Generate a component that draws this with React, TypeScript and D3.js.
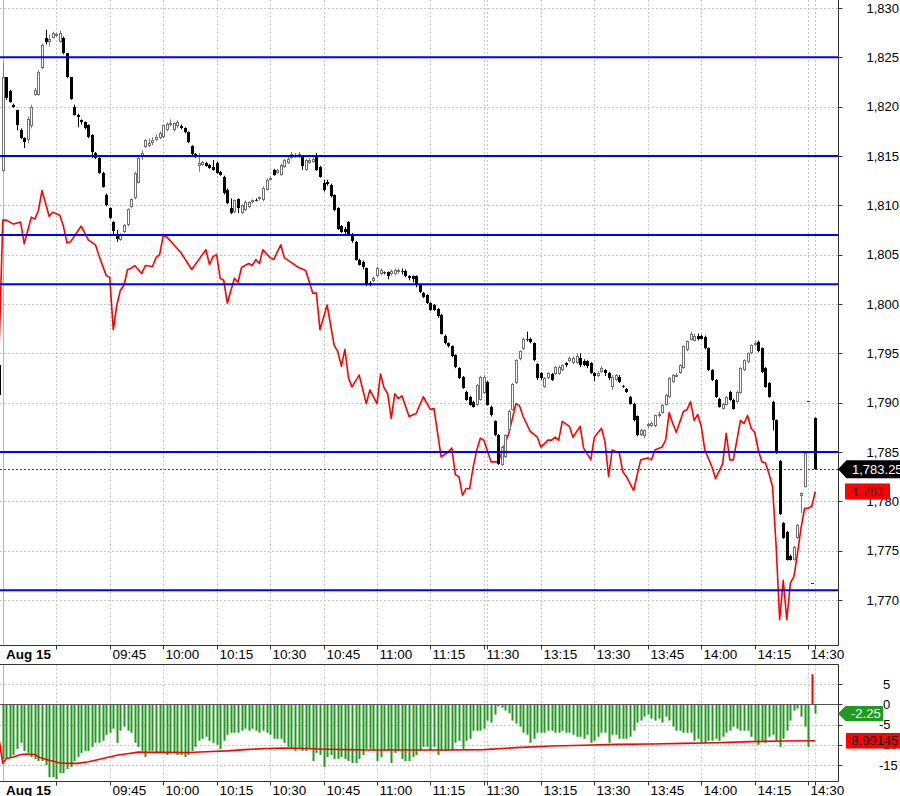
import React, { useEffect } from 'react';
import * as d3 from 'd3';

// ---------- DATA ----------
// Bar index -1 is the last bar of the previous session; index 0 is 09:15 (1-minute bars).
const FIRST_BAR = -1;

const opens = [1793.8,
  1813.5,1823.0,1821.6,1820.2,1819.7,1817.6,1816.8,1816.6,1818.0,1821.2,
  1821.2,1823.9,1827.0,1826.6,1827.0,1827.2,1826.6,1827.0,1825.4,1823.0,
  1820.0,1819.2,1818.6,1818.4,1818.1,1817.1,1815.3,1814.8,1813.3,1811.0,
  1809.7,1808.3,1806.9,1806.5,1807.3,1808.0,1809.8,1810.7,1812.3,1814.9,
  1815.9,1816.0,1816.3,1816.6,1816.8,1816.9,1817.6,1818.1,1817.6,1818.0,
  1818.0,1817.8,1817.4,1816.0,1815.2,1814.0,1814.1,1814.3,1814.1,1813.9,
  1814.3,1813.4,1812.9,1811.6,1809.7,1809.3,1810.6,1809.2,1809.5,1809.8,
  1810.4,1810.5,1810.6,1810.5,1811.6,1812.7,1813.6,1813.3,1813.1,1813.9,
  1814.3,1814.8,1814.9,1815.1,1815.0,1813.6,1814.3,1814.4,1815.1,1813.9,
  1812.3,1812.4,1812.1,1811.0,1809.7,1807.9,1807.6,1808.3,1807.1,1806.3,
  1804.5,1804.3,1803.6,1802.1,1802.3,1802.8,1803.0,1803.2,1803.2,1803.0,
  1803.0,1803.2,1803.3,1803.3,1802.8,1802.8,1802.8,1801.9,1801.1,1800.9,
  1800.1,1799.9,1799.5,1798.9,1796.8,1796.0,1795.7,1794.8,1793.5,1792.6,
  1791.1,1790.6,1790.1,1789.8,1790.3,1791.0,1792.1,1789.6,1788.1,1786.7,
  1783.7,1784.5,1787.2,1789.3,1792.0,1794.4,1795.4,1796.5,1796.5,1796.0,
  1793.9,1793.0,1791.6,1792.5,1792.9,1792.9,1792.9,1793.3,1794.0,1794.2,
  1794.0,1794.0,1794.5,1794.2,1794.2,1794.0,1793.0,1792.7,1793.1,1793.3,
  1793.0,1791.6,1792.3,1792.6,1791.7,1791.4,1790.6,1789.9,1788.6,1786.7,
  1786.6,1787.6,1787.6,1787.6,1788.7,1789.0,1789.8,1790.6,1792.1,1792.7,
  1793.0,1793.5,1795.3,1796.4,1796.3,1796.8,1796.8,1796.7,1795.5,1793.3,
  1792.3,1790.4,1789.4,1789.8,1791.1,1790.3,1790.1,1791.0,1793.3,1794.1,
  1795.0,1795.8,1796.1,1795.5,1793.5,1792.0,1790.1,1788.2,1784.1,1777.8,
  1776.9,1774.5,1774.1,1776.3,1780.5,1781.5,1790.2,1771.7,1788.4];

const highs = [1794.0,
  1824.4,1823.0,1821.7,1820.3,1819.7,1817.8,1816.9,1819.0,1820.2,1821.9,
  1823.7,1826.4,1827.8,1827.3,1827.6,1827.5,1827.7,1827.1,1825.4,1823.0,
  1820.2,1819.3,1818.7,1818.5,1818.2,1817.2,1815.4,1814.9,1813.4,1811.2,
  1809.8,1808.4,1807.5,1807.2,1808.1,1809.7,1810.7,1813.4,1814.9,1815.6,
  1816.7,1816.8,1816.9,1817.2,1817.5,1818.2,1818.4,1818.7,1818.4,1818.6,
  1818.2,1817.9,1817.5,1816.1,1815.3,1815.3,1814.5,1814.4,1814.2,1814.6,
  1814.4,1813.5,1813.0,1811.7,1810.7,1810.6,1810.7,1810.1,1810.5,1810.4,
  1810.6,1810.7,1810.9,1811.9,1812.7,1813.0,1813.7,1813.7,1814.2,1814.7,
  1814.9,1815.4,1815.3,1815.4,1815.1,1814.7,1814.8,1815.0,1815.3,1814.0,
  1812.6,1812.6,1812.2,1811.1,1809.8,1808.0,1807.8,1808.4,1807.2,1806.4,
  1804.6,1804.4,1803.7,1802.3,1802.8,1803.8,1803.6,1803.3,1803.3,1803.5,
  1803.6,1803.6,1803.6,1803.5,1802.9,1802.9,1802.9,1802.0,1801.2,1801.0,
  1800.2,1800.0,1799.6,1799.0,1796.9,1796.1,1795.8,1794.9,1793.6,1792.7,
  1791.2,1790.7,1790.2,1791.9,1792.7,1792.8,1792.2,1789.7,1788.2,1786.8,
  1785.6,1786.8,1789.3,1792.0,1794.4,1795.3,1796.6,1797.2,1796.6,1796.1,
  1794.0,1793.1,1792.6,1793.1,1793.0,1793.7,1793.8,1793.9,1794.1,1794.7,
  1794.7,1795.0,1795.0,1794.4,1794.3,1794.1,1793.1,1793.2,1793.7,1793.4,
  1793.1,1792.8,1792.9,1792.8,1791.8,1791.5,1790.7,1790.0,1788.7,1787.4,
  1787.3,1788.0,1788.1,1788.8,1789.1,1789.9,1790.9,1792.6,1792.9,1793.0,
  1793.9,1795.8,1796.3,1797.2,1797.0,1797.0,1796.9,1796.8,1795.6,1793.4,
  1792.4,1790.5,1790.0,1790.7,1791.2,1790.4,1791.2,1793.6,1794.4,1795.1,
  1795.9,1796.3,1796.3,1795.6,1793.6,1792.1,1790.2,1788.3,1784.2,1777.9,
  1777.0,1774.6,1775.5,1777.7,1780.9,1785.0,1790.2,1771.7,1788.5];

const lows = [1790.5,
  1813.4,1820.7,1820.4,1819.9,1817.6,1816.7,1815.8,1816.3,1817.8,1821.1,
  1821.1,1823.8,1826.3,1826.1,1826.9,1827.1,1826.5,1825.3,1822.9,1820.7,
  1819.1,1817.9,1818.2,1817.7,1816.8,1814.8,1814.7,1813.2,1811.8,1809.9,
  1808.6,1807.1,1806.3,1806.4,1807.2,1807.9,1809.7,1810.6,1812.2,1814.6,
  1815.8,1815.9,1816.1,1816.5,1816.7,1816.8,1817.5,1818.0,1817.5,1817.8,
  1817.7,1817.3,1816.3,1815.1,1814.8,1813.4,1814.0,1813.9,1813.7,1813.5,
  1813.2,1813.0,1811.1,1810.1,1809.1,1809.2,1809.2,1809.1,1809.4,1809.7,
  1810.2,1810.4,1810.5,1810.4,1811.5,1812.6,1813.0,1813.2,1813.0,1813.8,
  1814.2,1814.7,1814.8,1814.8,1813.6,1813.5,1814.2,1814.3,1813.5,1812.8,
  1811.4,1812.0,1810.8,1809.4,1807.5,1807.2,1807.1,1806.9,1806.2,1804.4,
  1803.9,1803.5,1801.8,1801.8,1802.2,1802.7,1802.9,1803.0,1802.5,1802.9,
  1802.9,1803.1,1803.0,1802.7,1802.4,1802.2,1801.7,1801.1,1800.6,1800.0,
  1799.3,1799.3,1798.6,1796.9,1795.9,1795.6,1794.6,1793.5,1792.4,1791.4,
  1790.2,1789.7,1789.5,1789.7,1790.2,1790.9,1789.7,1788.6,1786.6,1783.7,
  1783.6,1784.4,1787.1,1789.2,1791.9,1794.3,1795.3,1796.2,1796.0,1794.2,
  1792.3,1792.3,1791.5,1792.4,1792.2,1792.8,1792.8,1793.2,1793.6,1794.1,
  1793.9,1793.9,1793.6,1793.7,1793.5,1792.9,1792.2,1792.6,1793.0,1792.7,
  1792.3,1791.3,1792.2,1792.0,1791.5,1791.0,1789.8,1788.1,1786.6,1786.6,
  1786.4,1787.4,1787.5,1787.5,1788.5,1788.9,1789.7,1790.5,1792.0,1792.6,
  1792.9,1793.4,1795.2,1796.3,1796.2,1796.3,1796.4,1795.4,1793.2,1792.2,
  1790.5,1789.5,1789.3,1789.7,1790.2,1789.3,1790.0,1790.9,1793.2,1794.0,
  1794.9,1795.7,1795.1,1793.0,1791.5,1790.5,1787.2,1784.8,1778.6,1776.2,
  1774.0,1774.0,1774.0,1776.2,1778.8,1781.4,1790.2,1771.7,1783.2];

const closes = [1790.8,
  1823.0,1820.9,1820.5,1820.0,1818.1,1816.8,1816.4,1818.8,1820.0,1821.7,
  1823.5,1826.3,1826.6,1826.9,1827.5,1827.4,1827.5,1825.4,1823.0,1820.8,
  1819.2,1819.0,1818.4,1817.8,1816.9,1815.4,1814.8,1813.3,1811.9,1810.0,
  1808.7,1807.4,1806.6,1807.0,1808.0,1809.6,1810.6,1813.3,1814.8,1815.3,
  1816.6,1816.3,1816.6,1816.9,1817.3,1818.1,1818.2,1818.3,1818.3,1818.4,
  1817.8,1817.4,1816.4,1815.2,1814.9,1814.3,1814.4,1814.0,1813.8,1813.6,
  1813.3,1813.1,1811.2,1810.2,1809.2,1810.5,1809.7,1810.0,1810.3,1810.3,
  1810.5,1810.5,1810.8,1811.8,1812.6,1812.8,1813.1,1813.6,1814.1,1814.6,
  1814.7,1815.2,1815.1,1815.2,1814.0,1814.6,1814.6,1814.7,1813.6,1812.9,
  1811.6,1812.2,1810.9,1809.5,1807.6,1807.3,1807.3,1807.0,1806.4,1804.5,
  1804.0,1803.8,1801.9,1801.9,1802.6,1803.6,1803.4,1803.1,1802.8,1803.3,
  1803.4,1803.4,1803.3,1802.8,1802.6,1802.5,1801.9,1801.2,1800.7,1800.1,
  1799.4,1799.4,1798.8,1797.0,1796.0,1795.7,1794.7,1793.6,1792.5,1791.5,
  1790.3,1789.8,1789.6,1791.8,1792.6,1792.6,1789.8,1788.7,1786.7,1783.8,
  1785.5,1786.7,1789.2,1791.9,1794.3,1795.2,1796.5,1796.4,1796.1,1794.3,
  1792.5,1792.5,1792.5,1793.0,1792.3,1793.6,1793.6,1793.8,1793.8,1794.5,
  1794.5,1794.7,1793.8,1793.8,1793.7,1793.0,1792.7,1793.0,1793.5,1793.0,
  1792.5,1792.6,1792.8,1792.1,1791.6,1791.1,1789.9,1788.2,1786.7,1787.2,
  1787.2,1787.8,1787.9,1788.7,1788.9,1789.8,1790.8,1792.5,1792.8,1792.8,
  1793.8,1795.7,1796.2,1797.0,1796.8,1796.5,1796.5,1795.5,1793.3,1792.3,
  1790.6,1789.6,1789.9,1790.6,1790.3,1789.4,1791.1,1793.5,1794.3,1795.0,
  1795.8,1796.0,1795.2,1793.1,1791.6,1790.6,1788.2,1784.9,1778.7,1776.3,
  1774.1,1774.1,1775.4,1777.6,1780.8,1784.9,1790.2,1771.7,1783.25];

// Red overlay line in the price panel: [bar index, price]
const overlay: [number, number][] = [
  [-1,1796.0],[0,1808.5],[1,1808.5],[3,1808.1],[4,1808.2],[5,1808.3],[6,1806.1],[8,1808.8],[9,1808.6],[10,1809.5],
  [11,1811.5],[13,1808.9],[14,1809.3],[16,1809.0],[17,1807.9],[18,1806.2],[19,1806.3],[22,1807.9],[24,1806.5],[26,1806.0],
  [27,1804.9],[29,1802.9],[30,1802.7],[31,1797.4],[32,1799.9],[33,1801.4],[34,1801.9],[35,1803.5],[36,1803.6],[37,1803.9],
  [39,1803.1],[40,1803.9],[42,1803.8],[43,1804.7],[44,1805.0],[45,1806.9],[46,1806.8],[48,1806.0],[50,1805.2],[53,1803.5],
  [55,1804.5],[57,1805.5],[58,1804.0],[59,1804.8],[60,1805.0],[61,1802.6],[62,1802.4],[63,1800.1],[65,1802.6],[66,1802.2],
  [67,1803.7],[69,1804.1],[70,1803.9],[71,1804.5],[72,1804.1],[73,1805.5],[75,1804.7],[76,1804.5],[78,1806.0],[79,1804.7],
  [81,1804.2],[83,1803.7],[85,1803.4],[87,1801.1],[88,1801.1],[89,1797.4],[91,1799.9],[93,1795.8],[94,1795.2],[95,1793.7],
  [96,1795.4],[97,1792.5],[98,1791.6],[100,1792.8],[102,1789.9],[103,1791.3],[105,1789.9],[106,1792.9],[107,1791.5],[108,1790.9],
  [109,1788.4],[110,1790.9],[111,1790.4],[112,1790.7],[114,1788.6],[116,1788.9],[118,1790.6],[120,1789.3],[121,1789.4],[123,1784.5],
  [125,1785.0],[126,1785.4],[127,1782.7],[128,1782.5],[129,1780.6],[130,1781.3],[131,1781.3],[132,1783.5],[133,1785.2],[134,1786.4],
  [135,1786.2],[137,1784.0],[139,1784.0],[140,1784.9],[141,1785.9],[142,1786.9],[144,1789.9],[145,1789.7],[146,1788.6],[148,1787.1],
  [150,1786.5],[151,1785.5],[153,1786.2],[154,1786.2],[155,1786.5],[156,1786.2],[157,1788.1],[159,1787.6],[160,1786.5],[162,1787.6],
  [163,1785.4],[165,1784.2],[166,1786.5],[168,1787.4],[169,1786.0],[170,1782.5],[171,1785.2],[173,1784.9],[174,1783.0],[175,1782.5],
  [177,1781.1],[179,1784.2],[181,1784.4],[182,1784.2],[183,1785.2],[185,1785.5],[186,1786.2],[187,1789.0],[188,1787.9],[189,1787.0],
  [191,1789.1],[192,1789.3],[193,1790.1],[194,1788.2],[195,1788.8],[196,1787.6],[197,1785.2],[199,1783.5],[200,1782.3],[202,1783.8],
  [203,1786.9],[204,1784.2],[205,1784.2],[207,1788.2],[208,1787.9],[209,1788.7],[210,1787.4],[211,1787.0],[212,1785.2],[213,1784.0],
  [214,1783.9],[215,1782.8],[216,1781.5],[217,1775.5],[218,1768.0],[219,1772.0],[220,1768.0],[221,1771.7],[222,1772.4],[223,1774.7],
  [224,1777.3],[225,1779.3],[226,1779.3],[227,1779.5],[228,1781.0]];

// Oscillator histogram, bar index 0..228
const oscBars = [
  -13.5,-13.5,-13,-12.5,-11,-9.5,-11.5,-12,-13,-13.5,
  -14,-14,-15,-18,-18,-18.5,-17,-17,-16,-15.5,
  -14,-13,-12,-11.5,-11.5,-10.5,-9.5,-9.5,-9,-7.5,
  -7,-6,-9.5,-6.5,-5.5,-6.5,-7,-9.5,-10.5,-11.5,
  -13,-11.5,-11.5,-12,-12,-12,-12.5,-12,-12,-12.5,
  -12.5,-13,-12.5,-11.5,-10.5,-9,-8.5,-8,-9,-9.5,
  -10,-11,-9,-7.5,-7,-7,-7,-6.5,-6,-6.5,
  -6,-6.5,-7,-6.5,-7,-7.5,-8.5,-8.5,-8.5,-9.5,
  -10.5,-11,-11.5,-11,-11.5,-11.5,-11,-14,-12,-12.5,
  -15.5,-13,-12.5,-13.5,-13.5,-13,-13.5,-14,-14.5,-14.5,
  -13.5,-12.5,-11,-11,-11.5,-14,-13,-11.5,-11.5,-14.5,
  -12,-11.5,-13.5,-14,-14,-13,-12.5,-11.5,-10.5,-10.5,
  -11.5,-10.5,-12.5,-11.5,-11.5,-11.5,-11.5,-9.5,-9,-11,
  -9,-8.5,-6.5,-6.5,-6.5,-6,-4,-4.5,-2.5,-0.5,
  -0.8,-1.5,-2.2,-4,-4.7,-5.5,-7,-7.5,-9.5,-8.5,
  -7,-7,-7,-6.5,-6.5,-7,-7,-6.5,-7,-7,
  -7.5,-8,-8,-8.5,-7.5,-9.5,-9,-8,-7,-7,
  -9.5,-7.5,-7.5,-8.5,-8.5,-8.5,-8,-6.5,-4.5,-4,
  -3,-2.5,-3.5,-4,-3.5,-4.5,-3,-4,-5.5,-6.5,
  -6.5,-7,-7,-7,-9,-8.5,-9.5,-9.5,-9,-9,
  -8.5,-9,-8,-7,-6.5,-5.5,-6,-6.5,-6.5,-6.5,
  -8,-9,-10,-9,-9.5,-8,-7.5,-9,-10.5,-8.5,
  -6.5,-4,-1.5,-1,-3,-5.5,-10.5,7.5,-2.25];

// Oscillator signal line: [bar index, value]
const oscSignal: [number, number][] = [
  [-1,-8.85],[0,-14.6],[1,-13.4],[3,-13.0],[5,-12.4],[7,-12.3],[9,-12.4],[10,-13.0],[12,-13.6],[14,-14.0],
  [16,-14.5],[18,-14.6],[21,-14.6],[24,-14.2],[26,-13.8],[29,-13.2],[32,-12.6],[35,-12.2],[38,-11.8],[52,-11.9],
  [57,-11.7],[63,-11.5],[68,-11.2],[74,-10.9],[79,-10.8],[85,-10.9],[91,-11.1],[97,-11.2],[102,-11.3],[125,-11.3],
  [135,-11.2],[144,-10.7],[154,-10.3],[163,-10.1],[172,-9.9],[182,-9.8],[191,-9.65],[200,-9.5],[210,-9.2],[219,-9.05],
  [228,-8.99145]];

const priceTicks = [1770, 1775, 1780, 1785, 1790, 1795, 1800, 1805, 1810, 1815, 1820, 1825, 1830];
const oscTicks = [5, 0, -5, -10, -15];
const levels = [1825, 1815, 1807, 1802, 1785, 1771];
const timeTickIdx = [15, 30, 45, 60, 75, 90, 105, 120, 135, 136, 151, 166, 181, 196, 211, 226, 228];
const timeLabelIdx = [30, 45, 60, 75, 90, 105, 120, 135, 151, 166, 181, 196, 211, 226];
const timeLabels = ['09:45', '10:00', '10:15', '10:30', '10:45', '11:00', '11:15', '11:30', '13:15', '13:30', '13:45', '14:00', '14:15', '14:30'];
const dayLabel = 'Aug 15';
const lastPrice = 1783.25;
const lastOverlay = 1781;
const lastOsc = -2.25;
const lastSignal = -8.99145;

const FONT = '"Liberation Sans", Arial, sans-serif';

export default function App() {
  useEffect(() => {
    document.body.style.margin = '0';
  }, []);

  const W = 900, H = 796;
  const AX = 838.5;
  const MAIN_BOTTOM = 645.5;
  const OSC_TOP = 664.5, OSC_BOTTOM = 781.5;
  const LAST = 228;

  const x = d3.scaleLinear().domain([0, LAST]).range([2.8, 815.3]);
  const y = d3.scaleLinear().domain([1770, 1830]).range([600, 8]);
  const yo = d3.scaleLinear().domain([-15, 5]).range([765, 684.3]);
  const px = (i: number) => Math.round(x(i));
  const fmtInt = d3.format(',');
  const fmtPrice = d3.format(',.2f');

  const bars = opens.map((o, k) => ({ i: k + FIRST_BAR, o, h: highs[k], l: lows[k], c: closes[k] }));

  const priceLine = d3.line<[number, number]>().x(d => x(d[0])).y(d => y(d[1]));
  const oscLine = d3.line<[number, number]>().x(d => x(d[0])).y(d => yo(d[1]));

  const grid = '#c6c6c6';
  const hy = (v: number) => Math.round(y(v)) + 0.5;
  const hyo = (v: number) => Math.round(yo(v)) + 0.5;

  const yLast = y(lastPrice);
  const yOver = y(lastOverlay);
  const yOsc = yo(lastOsc);
  const ySig = yo(lastSignal);

  return (
    <div style={{ position: 'absolute', left: 0, top: 0, width: W, height: H }}>
      <svg width={W} height={H} style={{ display: 'block', fontFamily: FONT }}>
        <defs>
          <clipPath id="mainClip"><rect x={0} y={0} width={AX} height={MAIN_BOTTOM} /></clipPath>
          <clipPath id="oscClip"><rect x={0} y={OSC_TOP} width={AX} height={OSC_BOTTOM - OSC_TOP} /></clipPath>
        </defs>
        <rect x={0} y={0} width={W} height={H} fill="#ffffff" />

        {/* ---------- MAIN PANEL ---------- */}
        <g clipPath="url(#mainClip)">
          {priceTicks.map(v => (
            <line key={'hg' + v} x1={0} x2={AX} y1={hy(v)} y2={hy(v)} stroke={grid} strokeDasharray="2 2" />
          ))}
          {timeTickIdx.map(i => (
            <line key={'vg' + i} x1={px(i) + 0.5} x2={px(i) + 0.5} y1={0} y2={MAIN_BOTTOM} stroke={grid} strokeDasharray="2 2" />
          ))}
          <line x1={px(0) + 0.5} x2={px(0) + 0.5} y1={0} y2={MAIN_BOTTOM} stroke="#b4b4b4" />
          <line x1={0} x2={AX} y1={Math.round(yLast) + 0.5} y2={Math.round(yLast) + 0.5} stroke="#e00000" strokeDasharray="2 2" />
          <path d={priceLine(overlay) || ''} fill="none" stroke="#ff0000" strokeWidth={1.6} strokeLinejoin="round" />
          {bars.map(b => {
            const cx = px(b.i);
            const up = b.c > b.o;
            const top = Math.round(y(Math.max(b.o, b.c)));
            const bot = Math.round(y(Math.min(b.o, b.c)));
            const hgt = Math.max(1, bot - top);
            return (
              <g key={'b' + b.i}>
                <line x1={cx + 0.5} x2={cx + 0.5} y1={y(b.h)} y2={y(b.l)} stroke={up ? '#7a7a7a' : '#000'} strokeWidth={1} />
                {up ? (
                  <rect x={cx - 0.5} y={top + 0.5} width={2} height={Math.max(1, hgt - 1)} fill="#ffffff" stroke="#707070" strokeWidth={1} />
                ) : (
                  <rect x={cx - 1} y={top} width={3} height={hgt} fill={hgt <= 1 ? '#333' : '#000'} />
                )}
              </g>
            );
          })}
          {levels.map(v => (
            <line key={'lv' + v} x1={0} x2={AX} y1={y(v)} y2={y(v)} stroke="#0000ff" strokeWidth={2} />
          ))}
        </g>

        {/* main axes */}
        <line x1={AX} x2={AX} y1={0} y2={MAIN_BOTTOM} stroke="#333" />
        <line x1={0} x2={AX} y1={MAIN_BOTTOM} y2={MAIN_BOTTOM} stroke="#333" />
        {priceTicks.map(v => (
          <g key={'pt' + v}>
            <line x1={AX} x2={AX + 4} y1={hy(v)} y2={hy(v)} stroke="#333" />
            <text x={866.5} y={y(v) + 4.6} fontSize={13} fill="#000">{fmtInt(v)}</text>
          </g>
        ))}
        {timeTickIdx.map(i => (
          <line key={'tk' + i} x1={px(i) + 0.5} x2={px(i) + 0.5} y1={MAIN_BOTTOM} y2={MAIN_BOTTOM + 4} stroke="#333" />
        ))}
        <text x={px(0) + 3} y={659} fontSize={13.5} fontWeight="bold" fill="#000">{dayLabel}</text>
        {timeLabelIdx.map((i, k) => (
          <text key={'tl' + i} x={px(i) + 2.5} y={659} fontSize={13.5} fill="#000">{timeLabels[k]}</text>
        ))}

        {/* ---------- OSCILLATOR PANEL ---------- */}
        <g clipPath="url(#oscClip)">
          {oscTicks.map(v => (
            <line key={'og' + v} x1={0} x2={AX} y1={hyo(v)} y2={hyo(v)} stroke={grid} strokeDasharray="2 2" />
          ))}
          {timeTickIdx.map(i => (
            <line key={'ovg' + i} x1={px(i) + 0.5} x2={px(i) + 0.5} y1={OSC_TOP} y2={OSC_BOTTOM} stroke={grid} strokeDasharray="2 2" />
          ))}
          <line x1={px(0) + 0.5} x2={px(0) + 0.5} y1={OSC_TOP} y2={OSC_BOTTOM} stroke="#b4b4b4" />
          {oscBars.map((v, i) => {
            const cx = px(i);
            const y0 = yo(0), y1 = yo(v);
            return (
              <rect key={'ob' + i} x={cx - 0.5} y={Math.min(y0, y1)} width={2} height={Math.abs(y1 - y0)}
                fill={v >= 0 ? '#ff0000' : '#1f9a1f'} />
            );
          })}
          <line x1={0} x2={AX} y1={hyo(0)} y2={hyo(0)} stroke="#555" />
          <path d={oscLine(oscSignal) || ''} fill="none" stroke="#ff0000" strokeWidth={1.6} strokeLinejoin="round" />
        </g>

        {/* oscillator axes */}
        <line x1={0} x2={AX} y1={OSC_TOP} y2={OSC_TOP} stroke="#333" />
        <line x1={AX} x2={AX} y1={OSC_TOP} y2={OSC_BOTTOM} stroke="#333" />
        <line x1={0} x2={AX} y1={OSC_BOTTOM} y2={OSC_BOTTOM} stroke="#333" />
        {oscTicks.map(v => (
          <g key={'ot' + v}>
            <line x1={AX} x2={AX + 4} y1={hyo(v)} y2={hyo(v)} stroke="#333" />
            <text x={v >= 0 ? 883 : 879} y={yo(v) + 4.6} fontSize={13} fill="#000">{String(v)}</text>
          </g>
        ))}
        {timeTickIdx.map(i => (
          <line key={'otk' + i} x1={px(i) + 0.5} x2={px(i) + 0.5} y1={OSC_BOTTOM} y2={OSC_BOTTOM + 4} stroke="#333" />
        ))}
        <text x={px(0) + 3} y={795} fontSize={13.5} fontWeight="bold" fill="#000">{dayLabel}</text>
        {timeLabelIdx.map((i, k) => (
          <text key={'otl' + i} x={px(i) + 2.5} y={795} fontSize={13.5} fill="#000">{timeLabels[k]}</text>
        ))}

        {/* ---------- VALUE TAGS ---------- */}
        <path d={`M${AX - 0.5},${yLast} L${AX + 8},${yLast - 9} L${W},${yLast - 9} L${W},${yLast + 9} L${AX + 8},${yLast + 9} Z`} fill="#000" />
        <text x={852} y={yLast + 4.6} fontSize={13} fill="#fff">{fmtPrice(lastPrice)}</text>
        <rect x={845} y={yOver - 8} width={45} height={16} fill="#ff0000" />
        <text x={852} y={yOver + 4.6} fontSize={13} fill="#000">{fmtInt(lastOverlay)}</text>

        <path d={`M${AX - 0.5},${yOsc} L${AX + 7},${yOsc - 7.5} L${883},${yOsc - 7.5} L${883},${yOsc + 7.5} L${AX + 7},${yOsc + 7.5} Z`} fill="#1f9a1f" />
        <text x={851} y={yOsc + 4.6} fontSize={13} fill="#fff">{String(lastOsc)}</text>
        <rect x={846} y={ySig - 7.8} width={60} height={15.6} fill="#ff0000" />
        <text x={847} y={ySig + 4.6} fontSize={13} fill="#000">{String(lastSignal)}</text>
      </svg>
    </div>
  );
}
